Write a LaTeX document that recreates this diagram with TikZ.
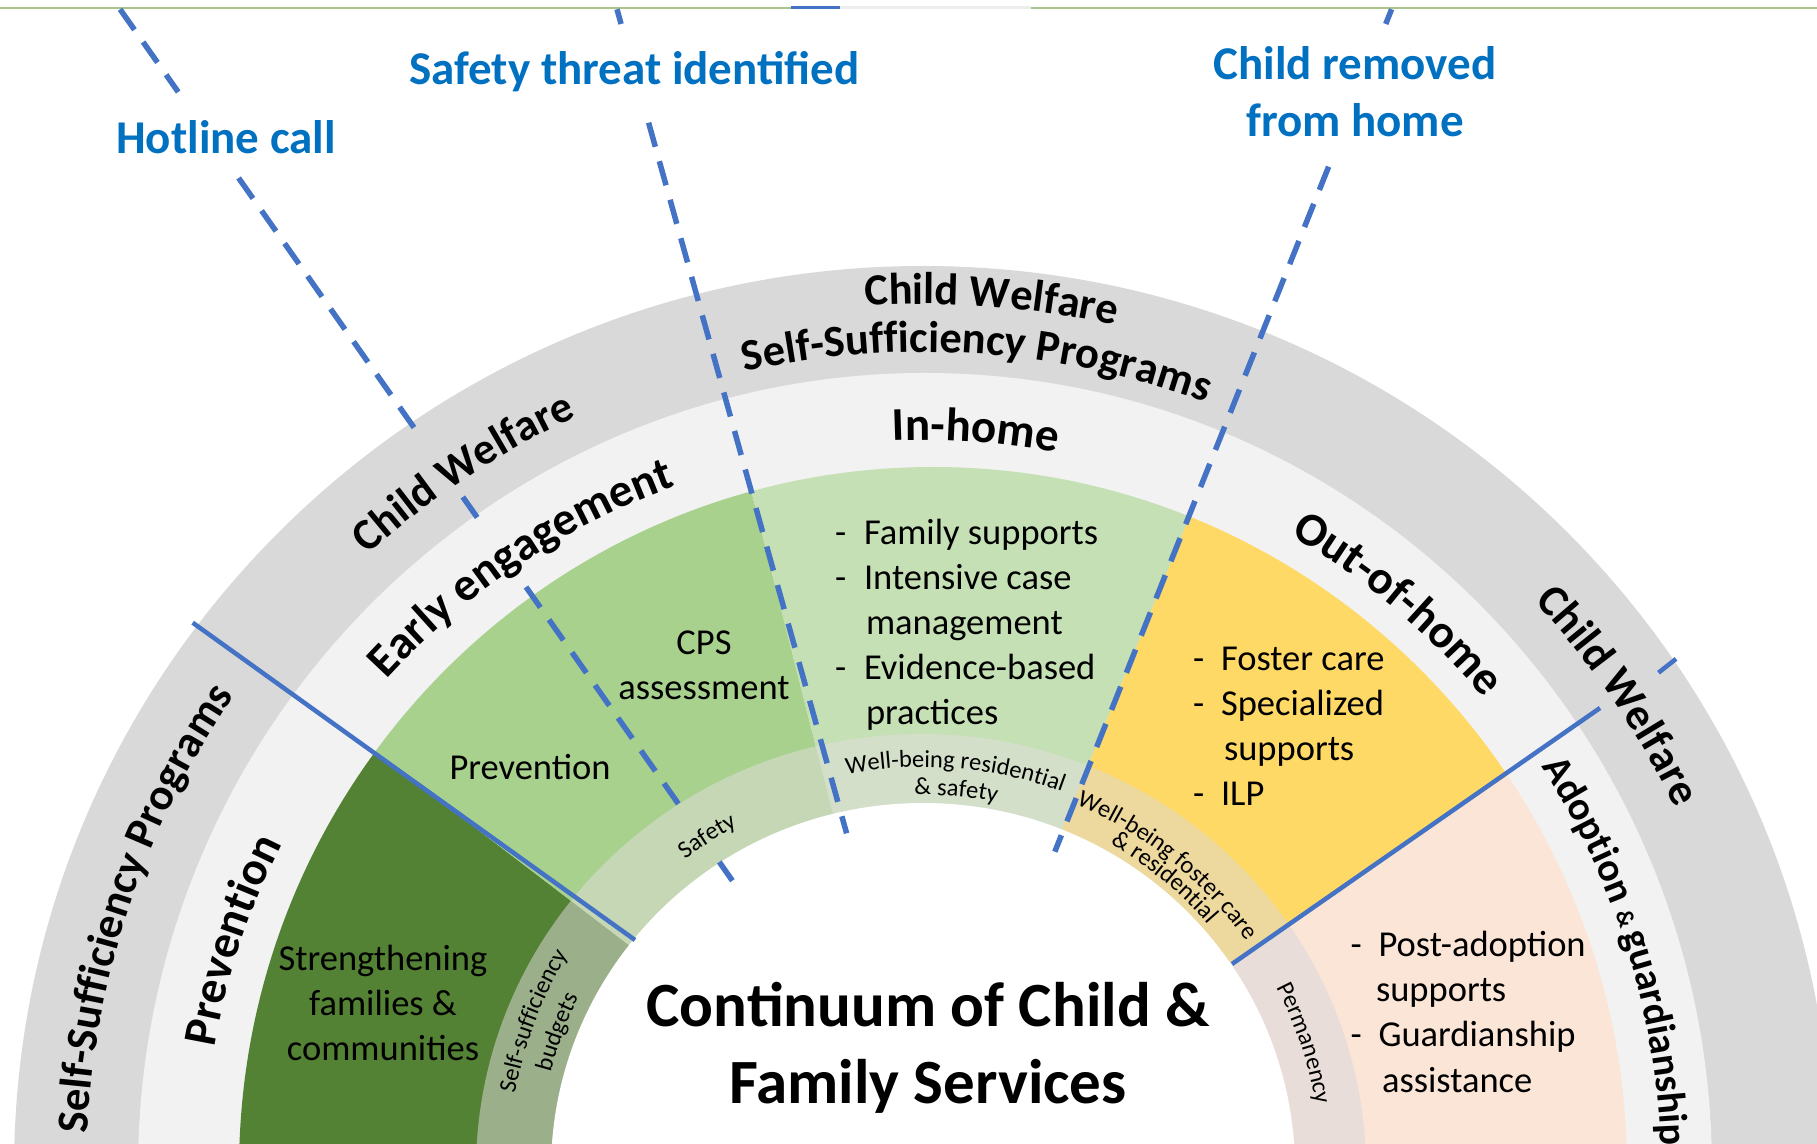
\documentclass[tikz,border=0pt]{standalone}
\usepackage{fontspec}
\setmainfont{Carlito}
\usetikzlibrary{calc,decorations.text}
\definecolor{ringgray}{HTML}{D9D9D9}
\definecolor{ringlight}{HTML}{F2F2F2}
\definecolor{dkgreen}{HTML}{548235}
\definecolor{ltgreen}{HTML}{A9D18E}
\definecolor{inhome}{HTML}{C5E0B4}
\definecolor{yellowoh}{HTML}{FFD966}
\definecolor{peach}{HTML}{FBE5D6}
\definecolor{budget}{HTML}{9BB08A}
\definecolor{safetyc}{HTML}{C5D7B5}
\definecolor{wbres}{HTML}{D3DFC9}
\definecolor{wbfoster}{HTML}{EDD89E}
\definecolor{perm}{HTML}{E8DDD8}
\definecolor{lineblue}{HTML}{4472C4}
\definecolor{labelblue}{HTML}{0070C0}
\definecolor{topline}{HTML}{A9C48C}
\newcommand\arclabel[4]{%
  \path[decorate, decoration={text along path, text align=center, text color=black, text={|#3|#4}}]
    ($(C)+({#2+45}:#1)$) arc[start angle={#2+45}, end angle={#2-45}, radius=#1pt];
}
\newcommand\sectorfill[3]{%
  \fill[#1] (C) -- ($(C)+(#2:1100)$) arc[start angle=#2, end angle=#3, radius=1100pt] -- cycle;
}
\begin{document}
\begin{tikzpicture}[x=1pt,y=1pt,
  every node/.style={inner sep=0pt, outer sep=0pt},
  itemtxt/.style={anchor=base west, font=\fontsize{36.5}{44.5}\selectfont},
  ctrtxt/.style={anchor=base, font=\fontsize{36.5}{44.5}\selectfont},
  bluelabel/.style={anchor=base, text=labelblue, font=\bfseries\fontsize{47}{57}\selectfont},
  titletxt/.style={anchor=base, font=\bfseries\fontsize{63}{77}\selectfont},
  solidline/.style={draw=lineblue, line width=4.5pt},
  dashline/.style={draw=lineblue, line width=5.5pt, dash pattern=on 25pt off 15pt},
]
\useasboundingbox (0,0) rectangle (1817,1143);
\clip (0,0) rectangle (1817,1143);
\fill[white] (0,0) rectangle (1817,1143);
\coordinate (C) at (923,-27);
% top thin line
\draw[topline, line width=1.2pt] (0,1135) -- (1817,1135);
\draw[lineblue, line width=3pt] (791,1135) -- (840,1135);
\draw[black!7, line width=3pt] (840,1135) -- (1031,1135);
% rings
\fill[ringgray] (923,-27) ellipse[x radius=909pt, y radius=904pt];
\fill[ringlight] (925,-27) ellipse[x radius=787pt, y radius=797pt];
\begin{scope}
  \clip (933,-27) ellipse[x radius=694pt, y radius=703pt];
  \sectorfill{dkgreen}{142.6}{200}
  \sectorfill{ltgreen}{104.2}{142.6}
  \sectorfill{inhome}{67.8}{104.2}
  \sectorfill{yellowoh}{34}{67.8}
  \sectorfill{peach}{-20}{34}
\end{scope}
\begin{scope}
  \clip (921,-27) ellipse[x radius=445pt, y radius=436pt];
  \sectorfill{budget}{142.6}{200}
  \sectorfill{safetyc}{104.2}{142.6}
  \sectorfill{wbres}{67.8}{104.2}
  \sectorfill{wbfoster}{34}{67.8}
  \sectorfill{perm}{-20}{34}
\end{scope}
\fill[white] (923,-27) ellipse[x radius=372pt, y radius=367pt];
% solid dividers
\draw[solidline] (192.7,520.3) -- (635,203);
\draw[solidline] (1232,179) -- (1600,435);
\draw[solidline] (1658.5,470.3) -- (1676,484.1);
% dashed milestone lines
\draw[dashline] (120.1,1133.7) -- (178.2,1051);
\draw[dashline] (238.6,965) -- (419.2,708);
\draw[dashline] (462.8,646) -- (483.9,616);
\draw[dashline] (526.0,556) -- (684.8,330);
\draw[dashline] (719.3,281) -- (732.4,262.3);
\draw[dashline] (617.0,1133.7) -- (621.1,1119);
\draw[dashline] (648.6,1020.3) -- (846.6,309.7);
\draw[dashline] (1391.6,1133.7) -- (1385.7,1119);
\draw[dashline] (1328.6,976.3) -- (1054.8,291.3);
% milestone labels
\node[bluelabel] (hot) at (226,989) {Hotline call};
\node[bluelabel] (sti) at (634.5,1058) {Safety threat identified};
\node[bluelabel] (crm1) at (1355,1063) {Child removed};
\node[bluelabel] (crm2) at (1355,1006) {from home};
% outer ring labels
\arclabel{836}{161.5}{\bfseries\fontsize{44.5}{53}\selectfont}{Self-Sufficiency Programs}
\arclabel{829}{123.4}{\bfseries\fontsize{44.5}{53}\selectfont}{Child Welfare}
\arclabel{866}{85.5}{\bfseries\fontsize{44.5}{53}\selectfont}{Child Welfare}
\arclabel{818}{86.2}{\bfseries\fontsize{44.5}{53}\selectfont}{Self-Sufficiency Programs}
\arclabel{835}{34.3}{\bfseries\fontsize{44.5}{53}\selectfont}{Child Welfare}
% light band labels
\arclabel{719}{161.6}{\bfseries\fontsize{47}{56}\selectfont}{Prevention}
\arclabel{727}{123.7}{\bfseries\fontsize{47}{56}\selectfont}{Early engagement}
\arclabel{730}{85.9}{\bfseries\fontsize{47}{56}\selectfont}{In-home}
\arclabel{733}{50}{\bfseries\fontsize{47}{56}\selectfont}{Out-of-home}
\arclabel{738}{17.5}{\bfseries\fontsize{40}{48}\selectfont}{Adoption |\bfseries\fontsize{24}{29}\selectfont|{\&} |\bfseries\fontsize{40}{48}\selectfont|guardianship}
% inner band labels
\arclabel{415}{159.1}{\fontsize{24.5}{29}\selectfont}{Self-sufficiency}
\arclabel{385}{159.3}{\fontsize{24.5}{29}\selectfont}{budgets}
\arclabel{391}{122.9}{\fontsize{24.5}{29}\selectfont}{Safety}
\arclabel{403}{85.35}{\fontsize{24.5}{29}\selectfont}{Well-being residential}
\arclabel{375}{85}{\fontsize{24.5}{29}\selectfont}{{\&} safety}
\arclabel{396}{51.3}{\fontsize{24.5}{29}\selectfont}{Well-being foster care}
\arclabel{376}{50.45}{\fontsize{24.5}{29}\selectfont}{{\&} residential}
\arclabel{398}{18.4}{\fontsize{24.5}{29}\selectfont}{Permanency}
% sector texts
\node[ctrtxt] (sf1) at (383,172) {Strengthening};
\node[ctrtxt] (sf2) at (383,127.5) {families \&};
\node[ctrtxt] (sf3) at (383,83) {communities};
\node[ctrtxt] (prev) at (530,363) {Prevention};
\node[ctrtxt] (cps1) at (704,488.2) {CPS};
\node[ctrtxt] (cps2) at (704,443.7) {assessment};
\node[itemtxt] (ihd1) at (835,598) {-};
\node[itemtxt] (ih1) at (864,598) {Family supports};
\node[itemtxt] (ihd2) at (835,553) {-};
\node[itemtxt] (ih2) at (864,553) {Intensive case};
\node[itemtxt] (ih3) at (866,508) {management};
\node[itemtxt] (ihd4) at (835,463) {-};
\node[itemtxt] (ih4) at (864,463) {Evidence-based};
\node[itemtxt] (ih5) at (866,418) {practices};
\node[itemtxt] (ohd1) at (1193,472) {-};
\node[itemtxt] (oh1) at (1221,472) {Foster care};
\node[itemtxt] (ohd2) at (1193,427) {-};
\node[itemtxt] (oh2) at (1221,427) {Specialized};
\node[itemtxt] (oh3) at (1224,382) {supports};
\node[itemtxt] (ohd4) at (1193,337) {-};
\node[itemtxt] (oh4) at (1221,337) {ILP};
\node[itemtxt] (agd1) at (1350.5,186) {-};
\node[itemtxt] (ag1) at (1378.5,186) {Post-adoption};
\node[itemtxt] (ag2) at (1376,141) {supports};
\node[itemtxt] (agd3) at (1350.5,96) {-};
\node[itemtxt] (ag3) at (1378.5,96) {Guardianship};
\node[itemtxt] (ag4) at (1382,51) {assistance};
% title
\node[titletxt] (t1) at (928,116.3) {Continuum of Child \&};
\node[titletxt] (t2) at (928,39.7) {Family Services};
\end{tikzpicture}
\end{document}
